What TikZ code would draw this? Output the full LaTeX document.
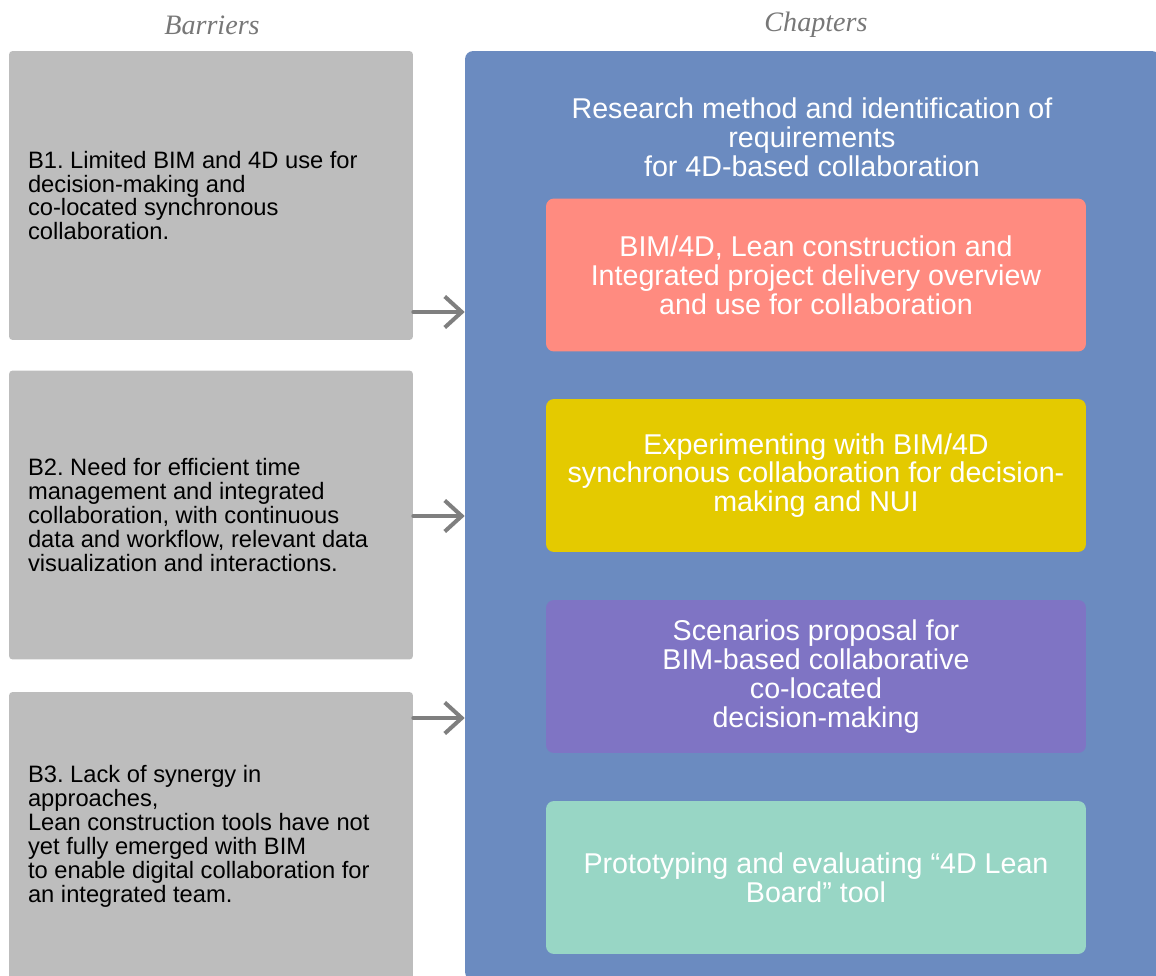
\documentclass[tikz,border=0pt]{standalone}
\usepackage{fontspec}
\setmainfont{Liberation Sans}
\newfontfamily\headfont{Liberation Serif}
\usetikzlibrary{arrows.meta, positioning, calc}
\frenchspacing

\definecolor{barriergray}{HTML}{BDBDBD}
\definecolor{chapblue}{HTML}{6B8BC0}
\definecolor{salmon}{HTML}{FF8B80}
\definecolor{mustard}{HTML}{E4CA00}
\definecolor{lavender}{HTML}{7F74C4}
\definecolor{mint}{HTML}{98D6C5}
\definecolor{arrowgray}{HTML}{7F7F7F}
\definecolor{headgray}{HTML}{777777}

\begin{document}
\begin{tikzpicture}[
        x=0.02cm, y=-0.02cm,
        heading/.style={font=\headfont\itshape\fontsize{16}{18}\selectfont, text=headgray},
        barrier/.style={rectangle, fill=barriergray, rounded corners=2pt, minimum width=8.08cm, minimum height=5.78cm, inner sep=0pt},
        bartext/.style={anchor=west, align=left, inner sep=0pt, font=\fontsize{13.5}{13.6}\selectfont},
        chapter/.style={rectangle, rounded corners=4.5pt, minimum width=10.8cm, minimum height=3.06cm, align=center, text=white, font=\fontsize{16.3}{16.4}\selectfont},
        flow/.style={-{Straight Barb[length=0.34cm, width=0.62cm]}, line width=0.08cm, draw=arrowgray, line cap=round, line join=round}
    ]
        \useasboundingbox (0,0) rectangle (1156,976);
        \clip (0,0) rectangle (1156,976);

        % HEADINGS
        \node[heading] (barriers_head) at (212,25) {Barriers};
        \node[heading] (chapters_head) at (816,25) {Chapters};

        % BARRIERS
        \node[barrier] (b1) at (211,195.5) {};
        \node[bartext] (b1_text) at ($(b1.west)+(19,0)$) {B1. Limited BIM and 4D use for\\decision-making and\\co-located synchronous\\collaboration.};

        \node[barrier] (b2) at (211,515) {};
        \node[bartext] (b2_text) at ($(b2.west)+(19,0)$) {B2. Need for efficient time\\management and integrated\\collaboration, with continuous\\data and workflow, relevant data\\visualization and interactions.};

        \node[barrier] (b3) at (211,836.5) {};
        \node[bartext] (b3_text) at ($(b3.west)+(19,0)$) {B3. Lack of synergy in\\approaches,\\Lean construction tools have not\\yet fully emerged with BIM\\to enable digital collaboration for\\an integrated team.};

        % CHAPTERS
        \node[rectangle, fill=chapblue, rounded corners=4.5pt, minimum width=13.9cm, minimum height=18.58cm] (chap) at (812.5,515.5) {};
        \node[align=center, text=white, font=\fontsize{16.3}{16.4}\selectfont] (chap_title) at (812,137) {Research method and identification of\\requirements\\for 4D-based collaboration};

        \node[chapter, fill=salmon] (lit) at (816,275) {BIM/4D, Lean construction and\\Integrated project delivery overview\\and use for collaboration};
        \node[chapter, fill=mustard] (exp) at (816,475.5) {Experimenting with BIM/4D\\synchronous collaboration for decision-\\making and NUI};
        \node[chapter, fill=lavender] (scen) at (816,676.5) {Scenarios proposal for\\BIM-based collaborative\\co-located\\decision-making};
        \node[chapter, fill=mint] (proto) at (816,877.5) {Prototyping and evaluating “4D Lean\\Board” tool};

        % FLOWS
        \coordinate (a1) at (0,312);
        \coordinate (a2) at (0,516);
        \coordinate (a3) at (0,718);
        \draw[flow] (b1.east |- a1) -- (chap.west |- a1);
        \draw[flow] (b2.east |- a2) -- (chap.west |- a2);
        \draw[flow] (b3.east |- a3) -- (chap.west |- a3);

    \end{tikzpicture}
\end{document}
